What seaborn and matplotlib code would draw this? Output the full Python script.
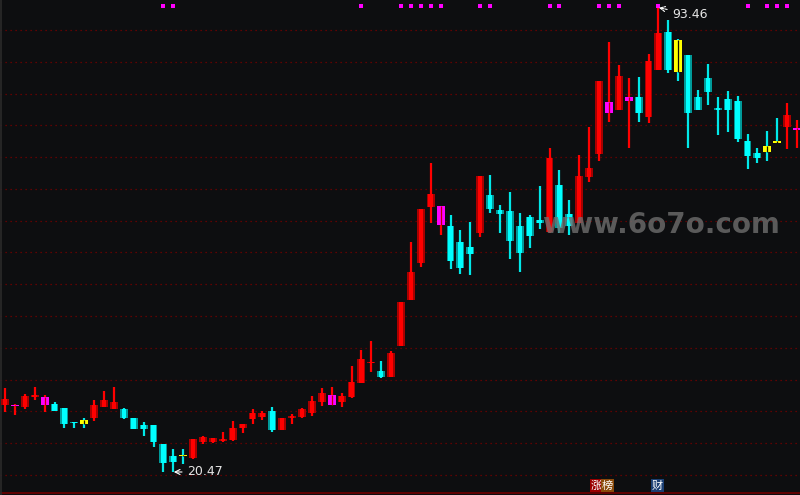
import numpy as np
import pandas as pd
import matplotlib
matplotlib.use("Agg")
import matplotlib.pyplot as plt
import seaborn as sns

# K线数据 (开, 高, 低, 收)
opens = [31.0, 30.8, 30.7, 32.3, 31.0, 31.2, 30.5, 28.25, 28.65, 29.0,
         30.7, 30.4, 30.4, 29.0, 27.85, 27.85, 24.9, 23.0, 23.0, 22.7,
         25.2, 25.2, 25.35, 25.5, 27.4, 28.8, 29.1, 30.07, 27.1, 28.95,
         29.1, 29.75, 31.5, 31.0, 31.5, 32.3, 34.5, 37.55, 36.35, 35.4,
         40.3, 47.5, 53.35, 62.2, 59.3, 59.2, 56.65, 55.9, 58.1, 64.0,
         61.7, 61.5, 59.2, 60.6, 60.1, 58.2, 65.6, 61.05, 59.6, 66.9,
         70.5, 76.9, 77.4, 78.8, 79.5, 76.3, 83.7, 89.7, 88.4, 86.1,
         79.5, 82.45, 77.7, 79.15, 78.8, 72.5, 70.65, 71.75, 72.35, 74.75,
         74.3]
highs = [33.7, 31.2, 32.75, 33.85, 32.6, 31.5, 30.6, 28.4, 28.95, 31.8,
         33.2, 33.85, 30.55, 29.0, 28.35, 27.85, 24.9, 24.1, 24.1, 25.65,
         26.1, 25.8, 26.8, 28.5, 28.0, 30.4, 30.0, 30.7, 29.0, 29.6,
         30.55, 32.4, 33.7, 33.85, 32.9, 37.1, 39.7, 41.1, 37.9, 39.5,
         47.2, 56.65, 61.85, 69.1, 62.3, 60.9, 58.5, 59.8, 67.0, 67.2,
         62.5, 64.5, 61.2, 60.9, 65.45, 71.4, 68.0, 63.3, 70.3, 74.7,
         82.0, 88.1, 84.5, 82.45, 82.6, 86.2, 93.46, 91.6, 88.6, 86.1,
         80.6, 84.65, 79.5, 80.4, 79.6, 73.6, 71.4, 74.1, 76.15, 78.5,
         75.8]
lows = [29.9, 29.4, 30.4, 31.8, 29.9, 30.0, 27.4, 27.4, 27.4, 28.5,
        30.7, 30.4, 28.8, 27.2, 26.1, 24.4, 20.5, 20.47, 21.7, 22.5,
        24.9, 25.0, 25.2, 25.3, 26.6, 28.0, 28.6, 26.8, 27.0, 28.0,
        28.97, 29.3, 30.85, 31.0, 30.7, 32.1, 34.5, 36.2, 35.3, 35.4,
        40.3, 47.5, 52.7, 59.6, 57.75, 52.4, 51.6, 51.5, 57.4, 61.2,
        58.1, 54.0, 51.9, 55.7, 58.7, 58.0, 58.0, 57.75, 59.6, 66.1,
        69.4, 75.5, 77.4, 71.4, 75.5, 75.4, 83.7, 83.2, 82.0, 71.4,
        77.4, 78.2, 73.5, 74.0, 72.4, 68.1, 69.1, 69.4, 72.2, 71.3,
        71.4]
closes = [31.95, 30.9, 32.45, 32.45, 32.3, 30.07, 28.0, 28.15, 28.0, 31.0,
          31.8, 31.5, 29.0, 27.2, 27.25, 25.2, 21.9, 22.05, 22.95, 25.65,
          26.0, 25.8, 25.65, 27.4, 28.0, 29.75, 29.75, 27.1, 29.0, 29.0,
          30.4, 31.6, 32.9, 32.6, 32.4, 34.6, 38.2, 37.6, 35.4, 39.2,
          47.2, 51.9, 61.8, 64.2, 62.3, 53.7, 52.55, 54.8, 67.0, 61.8,
          61.05, 56.8, 54.9, 57.6, 59.65, 69.9, 58.85, 59.2, 67.0, 68.3,
          82.0, 78.7, 82.8, 79.5, 76.9, 85.1, 89.5, 83.7, 83.4, 76.9,
          77.4, 80.25, 77.4, 77.4, 72.85, 70.2, 69.9, 70.8, 72.3, 76.6,
          74.5]

magenta_idx = [1, 4, 33, 44, 61, 63, 80]
yellow_idx = [8, 18, 68, 77, 78]
signal_idx = [16, 17, 36, 40, 41, 42, 43, 44, 48, 49, 55, 56, 60, 61, 62, 66,
              75, 77, 78, 79]
grid_levels = [20, 25, 30, 35, 40, 45, 50, 55, 60, 65, 70, 75, 80, 85, 90]

bg = "#0d0e10"
sns.set_style("dark", {"axes.facecolor": bg, "figure.facecolor": bg})
plt.rcParams["font.family"] = ["DejaVu Sans"]

df = pd.DataFrame({"open": opens, "high": highs, "low": lows, "close": closes})
df["x"] = np.arange(len(df))
df["up"] = df["close"] >= df["open"]
df["bottom"] = df[["open", "close"]].min(axis=1)
df["height"] = (df["close"] - df["open"]).abs().clip(lower=0.25)

fig = plt.figure(figsize=(8, 4.95), dpi=100)
ax = fig.add_axes([0, 0, 1, 1])
ax.set_facecolor(bg)
ax.set_xlim(-0.505, 80.3)
ax.set_ylim(16.85, 94.72)
ax.set_axis_off()

# 网格虚线
for lvl in grid_levels:
    ax.axhline(lvl, color="#7a0000", lw=0.9, ls=(0, (1, 3)), zorder=1)
ax.axhline(17.15, color="#700000", lw=1.2, zorder=1)
ax.axvline(-0.45, color="#2a2a2a", lw=1.2, zorder=1)

# 影线
wick_colors = np.where(df["up"], "#ff0000", "#00e8e8")
ax.vlines(df["x"], df["low"], df["high"], colors=wick_colors, lw=1.6, zorder=2)

# 实体
outer = np.where(df["up"], "#a80000", "#009a9a").astype(object)
inner = np.where(df["up"], "#ff0000", "#00ffff").astype(object)
for i in magenta_idx:
    outer[i] = inner[i] = "#ff00ff"
for i in yellow_idx:
    outer[i] = inner[i] = "#ffff00"
ax.bar(df["x"], df["height"], bottom=df["bottom"], width=0.8, color=list(outer),
       linewidth=0, zorder=3)
ax.bar(df["x"], df["height"], bottom=df["bottom"], width=0.45, color=list(inner),
       linewidth=0, zorder=3)

# 特殊K线中间的细线
sp = df.loc[magenta_idx + yellow_idx]
mid_colors = ["#c00000"] * len(magenta_idx) + ["#101000"] * len(yellow_idx)
ax.vlines(sp["x"], sp["bottom"], sp["bottom"] + sp["height"], colors=mid_colors,
          lw=0.9, zorder=4)

# 顶部信号点
sns.scatterplot(x=signal_idx, y=[93.8] * len(signal_idx), marker="s", s=6,
                color="#ff00ff", linewidth=0, ax=ax, legend=False, zorder=5)

# 最高/最低标注
ax.annotate("93.46", xy=(66.05, 93.5), xytext=(67.35, 92.5), color="#e6e6e6",
            fontsize=9, va="center", ha="left", zorder=6,
            arrowprops=dict(arrowstyle="->", color="white", lw=0.8,
                            linestyle=(0, (2, 1)), shrinkA=1, shrinkB=0))
ax.annotate("20.47", xy=(17.05, 20.47), xytext=(18.35, 20.47), color="#e6e6e6",
            fontsize=9, va="center", ha="left", zorder=6,
            arrowprops=dict(arrowstyle="->", color="white", lw=0.8,
                            shrinkA=1, shrinkB=0))

# 水印
ax.text(66.3, 59.3, "www.6o7o.com", fontsize=20, fontweight="bold",
        color="#6e6e6e", alpha=0.8, ha="center", va="center", zorder=7)

# 底部标签
cjk = ["Noto Sans CJK SC", "DejaVu Sans"]
fig.text(596.5 / 800, 1 - 485.5 / 495, "涨", family=cjk, fontsize=8, color="white",
         ha="center", va="center",
         bbox=dict(boxstyle="square,pad=0.1", fc="#9a0000", ec="none"))
fig.text(607.5 / 800, 1 - 485.5 / 495, "榜", family=cjk, fontsize=8, color="white",
         ha="center", va="center",
         bbox=dict(boxstyle="square,pad=0.1", fc="#8a4a0a", ec="none"))
fig.text(657.5 / 800, 1 - 485.5 / 495, "财", family=cjk, fontsize=8, color="white",
         ha="center", va="center",
         bbox=dict(boxstyle="square,pad=0.1", fc="#1b3f73", ec="none"))

fig.savefig("out.png", dpi=100, facecolor=bg)
